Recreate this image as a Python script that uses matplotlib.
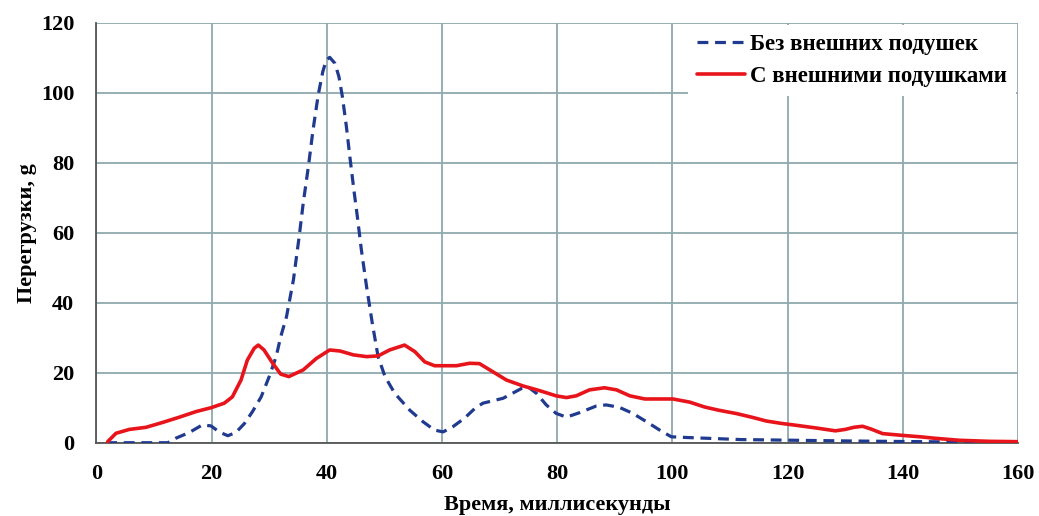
import matplotlib
matplotlib.use("Agg")
import matplotlib.pyplot as plt

# Без внешних подушек (dashed)
t_without = [1.7, 6, 12.4, 13.8, 16.1, 18.4, 19.9, 21.3, 22.8, 24.2, 25.7, 27.1, 28.6, 30, 31.2, 32,
             33, 34.2, 35.2, 35.9, 36.8, 37.6, 38.5, 39.3, 39.9, 40.5, 41.4, 42.1, 42.7, 43.4, 44,
             44.7, 45.3, 46, 46.9, 47.9, 48.9, 50.1, 51.8, 54.4, 56.7, 58.7, 60.2, 61.9, 63.9, 65.7,
             67.1, 70.6, 73.8, 74.9, 76.4, 78.1, 79.8, 81.6, 83.9, 86.8, 88.5, 90.8, 93.1, 95.5, 97.8,
             99.8, 102.4, 111.9, 121.4, 130.8, 143.5, 150, 156, 160]
g_without = [0, 0, 0, 1.3, 2.9, 5.1, 4.8, 3.1, 2.0, 2.9, 5.5, 8.9, 13.1, 18.9, 24.6, 30.3,
             36.0, 46.5, 58.9, 68.4, 78.9, 89.3, 99.3, 106.0, 109.3, 110.1, 108.4, 104.6, 98.9, 90.3, 81.7,
             72.2, 64.6, 55.1, 44.6, 34.1, 24.6, 18.9, 14.1, 9.3, 6.0, 3.6, 3.1, 4.6, 7.0, 9.8,
             11.3, 12.7, 15.5, 16.0, 14.1, 10.8, 8.4, 7.3, 8.6, 10.5, 10.8, 10.1, 8.4, 6.0, 3.6,
             1.7, 1.5, 0.9, 0.7, 0.5, 0.3, 0.2, 0.1, 0]

# С внешними подушками (solid)
t_with = [1.95, 3.4, 5.7, 8.6, 11.5, 14.4, 17.3, 19.9, 22.2, 23.6, 25.1, 26.2, 27.4, 28.1, 29.1, 30.6,
          32, 33.4, 35.9, 38.2, 40.5, 42.3, 44.6, 46.9, 48.9, 50.9, 53.5, 55.3, 57, 58.7, 62.5, 64.8,
          66.5, 68.8, 71.2, 74.1, 76.9, 79.8, 81.6, 83.3, 85.6, 88.2, 90.3, 92.6, 95.2, 100.1, 103,
          105.6, 108, 111.2, 114, 116.3, 119, 121.4, 125, 128.3, 130, 131.5, 133, 134.5, 136.5, 139.9,
          143, 145.4, 149.8, 155, 160]
g_with = [0.3, 2.7, 3.8, 4.4, 5.8, 7.3, 8.9, 10.0, 11.3, 13.1, 17.9, 23.6, 27.0, 27.9, 26.5, 22.7,
          19.6, 18.9, 20.8, 24.1, 26.5, 26.2, 25.1, 24.6, 24.8, 26.5, 27.9, 26.0, 23.1, 22.0, 22.0, 22.7,
          22.6, 20.3, 17.9, 16.2, 14.9, 13.4, 12.9, 13.4, 15.1, 15.7, 15.1, 13.4, 12.5, 12.5, 11.6,
          10.2, 9.3, 8.3, 7.2, 6.2, 5.5, 5.0, 4.2, 3.4, 3.8, 4.4, 4.7, 3.9, 2.6, 2.1,
          1.7, 1.3, 0.7, 0.4, 0.3]

x_ticks = [0, 20, 40, 60, 80, 100, 120, 140, 160]
y_ticks = [0, 20, 40, 60, 80, 100, 120]

plt.rcParams['font.family'] = ['Liberation Serif', 'DejaVu Serif']
plt.rcParams['font.weight'] = 'bold'

fig = plt.figure(figsize=(10.39, 5.16), dpi=100)
ax = fig.add_axes([0.0928, 0.142, 0.887, 0.814])

grid_c = '#8fa9ae'
ax.plot(t_without, g_without, color='#1f3a8f', lw=2.3, dashes=(3.4, 2.1),
        label='Без внешних подушек', zorder=3)
ax.plot(t_with, g_with, color='#e8141b', lw=2.6, label='С внешними подушками', zorder=4,
        solid_joinstyle='round', solid_capstyle='round')

ax.set_xlim(0, 160)
ax.set_ylim(0, 120)
ax.set_xticks(x_ticks)
ax.set_yticks(y_ticks)
ax.grid(True, color=grid_c, lw=1.3)
ax.set_axisbelow(True)
ax.tick_params(length=0, labelsize=16)
ax.tick_params(axis='x', pad=15)
ax.tick_params(axis='y', pad=16)
for lbl in ax.get_xticklabels() + ax.get_yticklabels():
    lbl.set_fontweight('bold')
for s in ['top', 'right']:
    ax.spines[s].set_visible(False)
for s in ['left', 'bottom']:
    ax.spines[s].set_color('#555555')
    ax.spines[s].set_linewidth(1.3)

ax.set_xlabel('Время, миллисекунды', fontsize=16, fontweight='bold', labelpad=8)
ax.set_ylabel('Перегрузки, g', fontsize=16, fontweight='bold', labelpad=3)

leg = ax.legend(loc='upper right', fontsize=16.5, frameon=True, fancybox=False,
                edgecolor='none', facecolor='white', framealpha=1, handlelength=2.1,
                handletextpad=0.2, borderaxespad=0.1, labelspacing=0.45)
for t in leg.get_texts():
    t.set_fontweight('bold')

fig.savefig('out.png', dpi=100)
